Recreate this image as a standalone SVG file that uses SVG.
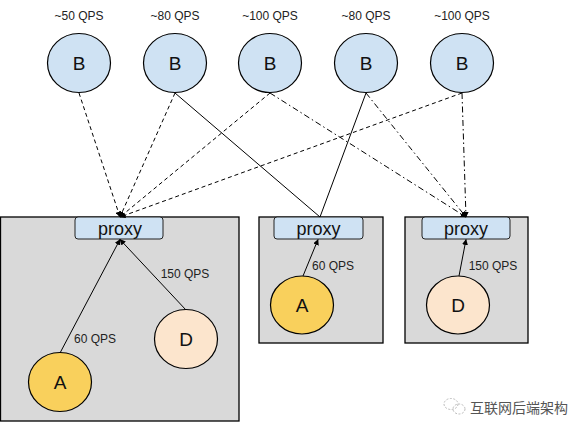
<svg xmlns="http://www.w3.org/2000/svg" width="585" height="434" viewBox="0 0 585 434">
<style>
.box{fill:#d9d9d9;stroke:#000;stroke-width:1.3}
.proxy{fill:#cfe2f3;stroke:#222;stroke-width:1}
.b{fill:#cfe2f3;stroke:#000;stroke-width:1.2}
.a{fill:#f9d05c;stroke:#000;stroke-width:1.2}
.d{fill:#fce5cd;stroke:#000;stroke-width:1.2}
.lbl{font-family:"Liberation Sans",Arial,sans-serif;font-size:12px;fill:#222;text-anchor:middle}
.big{font-family:"Liberation Sans",Arial,sans-serif;font-size:19px;fill:#111;text-anchor:middle}
.ptxt{font-family:"Liberation Sans",Arial,sans-serif;font-size:18px;fill:#111;text-anchor:middle}
.c{fill:none;stroke:#000;stroke-width:1}
.dash{stroke-dasharray:4 3}
.dd{stroke-dasharray:6 3 1.5 3}
</style>
<defs>
<marker id="ah" viewBox="0 0 10 10" refX="9" refY="5" markerWidth="6" markerHeight="6" orient="auto" markerUnits="userSpaceOnUse">
<path d="M0,0 L10,5 L0,10 z" fill="#000"/>
</marker>
</defs>
<g id="box1"><rect class="box" x="0.5" y="217" width="238.5" height="204"/></g>
<g id="box2"><rect class="box" x="259" y="217" width="124" height="126"/></g>
<g id="box3"><rect class="box" x="405" y="217" width="123" height="126"/></g>
<g id="proxy1"><rect class="proxy" x="75" y="217" width="88" height="22" rx="3"/><text class="ptxt" x="120" y="235">proxy</text></g>
<g id="proxy2"><rect class="proxy" x="274" y="217" width="89" height="22" rx="3"/><text class="ptxt" x="318.5" y="235">proxy</text></g>
<g id="proxy3"><rect class="proxy" x="422" y="217" width="88" height="22" rx="3"/><text class="ptxt" x="466" y="235">proxy</text></g>
<g id="b1"><text class="lbl" x="79" y="20">~50 QPS</text><ellipse class="b" cx="79" cy="63" rx="31.5" ry="29.5"/><text class="big" x="79" y="70">B</text></g>
<g id="b2"><text class="lbl" x="175" y="20">~80 QPS</text><ellipse class="b" cx="175" cy="63" rx="31.5" ry="29.5"/><text class="big" x="175" y="70">B</text></g>
<g id="b3"><text class="lbl" x="270" y="20">~100 QPS</text><ellipse class="b" cx="270" cy="63" rx="31.5" ry="29.5"/><text class="big" x="270" y="70">B</text></g>
<g id="b4"><text class="lbl" x="366" y="20">~80 QPS</text><ellipse class="b" cx="366" cy="63" rx="31.5" ry="29.5"/><text class="big" x="366" y="70">B</text></g>
<g id="b5"><text class="lbl" x="462" y="20">~100 QPS</text><ellipse class="b" cx="462" cy="63" rx="31.5" ry="29.5"/><text class="big" x="462" y="70">B</text></g>
<g id="a1"><ellipse class="a" cx="60" cy="382" rx="31.5" ry="29.5"/><text class="big" x="60" y="389">A</text></g>
<g id="d1"><ellipse class="d" cx="186" cy="339" rx="31.5" ry="29.5"/><text class="big" x="186" y="346">D</text></g>
<g id="a2"><ellipse class="a" cx="302" cy="305" rx="31.5" ry="29"/><text class="big" x="302" y="312">A</text></g>
<g id="d3"><ellipse class="d" cx="458" cy="305" rx="31.5" ry="29"/><text class="big" x="458" y="312">D</text></g>
<g id="connectors">
<line class="c dash" x1="79" y1="93" x2="120" y2="217" marker-end="url(#ah)"/>
<line class="c dash" x1="175" y1="93" x2="120" y2="217" marker-end="url(#ah)"/>
<line class="c dash" x1="270" y1="93" x2="120" y2="217" marker-end="url(#ah)"/>
<line class="c dash" x1="462" y1="93" x2="120" y2="217" marker-end="url(#ah)"/>
<line class="c" x1="175" y1="93" x2="320" y2="217"/>
<line class="c" x1="366" y1="93" x2="320" y2="217"/>
<line class="c dd" x1="270" y1="93" x2="466" y2="217" marker-end="url(#ah)"/>
<line class="c dd" x1="366" y1="93" x2="466" y2="217" marker-end="url(#ah)"/>
<line class="c dd" x1="462" y1="93" x2="466" y2="217" marker-end="url(#ah)"/>
<line class="c" x1="60" y1="353" x2="120" y2="239.5" marker-end="url(#ah)"/>
<line class="c" x1="186" y1="310" x2="120" y2="239.5" marker-end="url(#ah)"/>
<line class="c" x1="303" y1="276" x2="318" y2="239.5" marker-end="url(#ah)"/>
<line class="c" x1="459" y1="276" x2="466" y2="239.5" marker-end="url(#ah)"/>
<text class="lbl" x="95" y="343">60 QPS</text>
<text class="lbl" x="185" y="278">150 QPS</text>
<text class="lbl" x="333" y="270">60 QPS</text>
<text class="lbl" x="493" y="270">150 QPS</text>
</g>
<g id="watermark">
<ellipse cx="451" cy="404" rx="7" ry="5.5" fill="none" stroke="#bbb" stroke-width="1" stroke-dasharray="2 1.5"/>
<ellipse cx="459" cy="409" rx="6" ry="5" fill="none" stroke="#bbb" stroke-width="1" stroke-dasharray="2 1.5"/>
<text x="470" y="413" font-family="'Noto Sans CJK SC',sans-serif" font-size="14" fill="#555">互联网后端架构</text>
</g>
</svg>
